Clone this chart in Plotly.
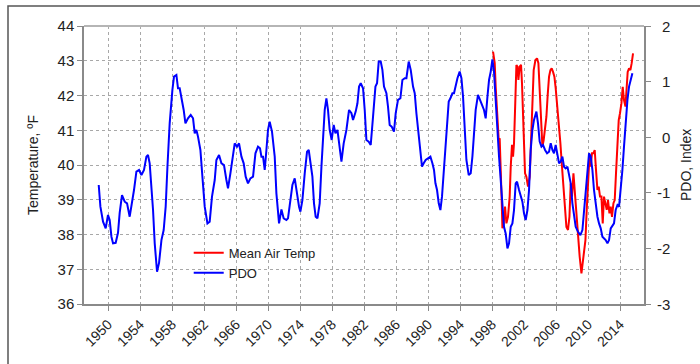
import plotly.graph_objects as go

# Pacific Decadal Oscillation index (right axis), smoothed
pdo_year = [
    1948.84, 1949.05, 1949.38, 1949.71, 1950.00, 1950.21, 1950.43, 1950.63, 1950.96, 1951.25,
    1951.46, 1951.75, 1952.09, 1952.38, 1952.71, 1953.00, 1953.25, 1953.55, 1953.88, 1954.18,
    1954.50, 1954.80, 1955.00, 1955.21, 1955.43, 1955.63, 1955.84, 1956.13, 1956.38, 1956.68,
    1956.96, 1957.21, 1957.43, 1957.71, 1958.05, 1958.25, 1958.55, 1958.75, 1958.96, 1959.18,
    1959.46, 1959.68, 1960.00, 1960.34, 1960.63, 1960.84, 1961.05, 1961.25, 1961.55, 1961.80,
    1962.09, 1962.43, 1962.71, 1963.00, 1963.34, 1963.55, 1963.88, 1964.18, 1964.50, 1964.80,
    1965.00, 1965.30, 1965.63, 1965.84, 1966.13, 1966.38, 1966.68, 1966.96, 1967.21, 1967.50,
    1967.80, 1968.13, 1968.43, 1968.75, 1969.00, 1969.18, 1969.38, 1969.59, 1969.80, 1970.00,
    1970.21, 1970.50, 1970.84, 1971.05, 1971.38, 1971.68, 1971.96, 1972.30, 1972.50, 1972.80,
    1973.05, 1973.34, 1973.63, 1973.88, 1974.05, 1974.30, 1974.59, 1974.88, 1975.09, 1975.30,
    1975.55, 1975.75, 1975.96, 1976.18, 1976.46, 1976.68, 1976.88, 1977.09, 1977.30, 1977.50,
    1977.71, 1977.96, 1978.21, 1978.43, 1978.68, 1978.88, 1979.18, 1979.46, 1979.80, 1980.13,
    1980.43, 1980.63, 1980.96, 1981.18, 1981.38, 1981.59, 1981.88, 1982.09, 1982.30, 1982.59,
    1982.84, 1983.13, 1983.43, 1983.63, 1983.84, 1984.09, 1984.30, 1984.50, 1984.80, 1985.00,
    1985.21, 1985.46, 1985.75, 1985.96, 1986.25, 1986.55, 1986.80, 1987.09, 1987.30, 1987.59,
    1987.84, 1988.13, 1988.34, 1988.55, 1988.84, 1989.05, 1989.25, 1989.46, 1989.71, 1990.00,
    1990.30, 1990.55, 1990.75, 1990.93, 1991.13, 1991.34, 1991.55, 1991.75, 1991.96, 1992.18,
    1992.38, 1992.59, 1992.80, 1993.05, 1993.25, 1993.46, 1993.68, 1993.96, 1994.18, 1994.38,
    1994.59, 1994.80, 1995.09, 1995.34, 1995.55, 1995.75, 1995.96, 1996.25, 1996.46, 1996.75,
    1997.00, 1997.21, 1997.43, 1997.63, 1997.84, 1998.05, 1998.25, 1998.46, 1998.68, 1998.88,
    1999.09, 1999.30, 1999.50, 1999.71, 1999.93, 2000.13, 2000.34, 2000.55, 2000.75, 2000.96,
    2001.13, 2001.38, 2001.59, 2001.80, 2002.00, 2002.21, 2002.43, 2002.63, 2002.84, 2003.05,
    2003.25, 2003.55, 2003.75, 2003.96, 2004.18, 2004.38, 2004.63, 2004.88, 2005.13, 2005.34,
    2005.55, 2005.75, 2005.96, 2006.18, 2006.38, 2006.59, 2006.80, 2007.00, 2007.21, 2007.43,
    2007.63, 2007.84, 2008.05, 2008.25, 2008.46, 2008.75, 2009.05, 2009.30, 2009.50, 2009.71,
    2009.93, 2010.13, 2010.34, 2010.55, 2010.75, 2010.96, 2011.18, 2011.38, 2011.59, 2011.80,
    2012.00, 2012.21, 2012.43, 2012.63, 2012.84, 2013.05, 2013.25, 2013.46, 2013.68, 2013.88,
    2014.09, 2014.30, 2014.50, 2014.71, 2014.93, 2015.13, 2015.34, 2015.55,
]
pdo_index = [
    -0.86, -1.25, -1.52, -1.64, -1.40, -1.49, -1.79, -1.91, -1.90, -1.72,
    -1.36, -1.04, -1.16, -1.19, -1.43, -1.19, -0.95, -0.62, -0.59, -0.68,
    -0.59, -0.35, -0.32, -0.47, -0.83, -1.31, -1.91, -2.42, -2.26, -1.85,
    -1.67, -1.25, -0.53, 0.25, 0.85, 1.09, 1.12, 0.88, 0.88, 0.73,
    0.49, 0.25, 0.34, 0.40, 0.34, 0.07, 0.13, 0.01, -0.23, -0.71,
    -1.25, -1.55, -1.52, -1.07, -0.77, -0.41, -0.32, -0.47, -0.50, -0.77,
    -0.92, -0.65, -0.35, -0.11, -0.17, -0.11, -0.35, -0.47, -0.71, -0.83,
    -0.74, -0.71, -0.29, -0.17, -0.20, -0.35, -0.35, -0.59, -0.23, 0.13,
    0.28, 0.10, -0.35, -1.01, -1.55, -1.30, -1.46, -1.49, -1.46, -1.07,
    -0.86, -0.74, -1.07, -1.25, -1.34, -1.13, -0.65, -0.26, -0.23, -0.47,
    -0.71, -1.19, -1.43, -1.46, -1.19, -0.53, 0.01, 0.49, 0.70, 0.49,
    0.13, -0.05, 0.22, 0.07, 0.13, -0.11, -0.44, -0.11, 0.13, 0.49,
    0.43, 0.31, 0.46, 0.61, 0.91, 0.97, 0.88, 0.49, -0.05, -0.08,
    -0.14, 0.37, 0.91, 0.97, 1.36, 1.36, 1.21, 0.91, 0.79, 0.55,
    0.22, 0.19, 0.10, 0.43, 0.67, 0.70, 1.03, 1.06, 1.06, 1.36,
    1.21, 0.91, 0.79, 0.43, 0.01, -0.29, -0.53, -0.47, -0.41, -0.38,
    -0.35, -0.47, -0.59, -0.83, -0.95, -1.19, -1.31, -1.07, -0.65, -0.23,
    0.25, 0.64, 0.70, 0.79, 0.79, 0.94, 1.06, 1.18, 1.06, 0.73,
    0.10, -0.41, -0.68, -0.65, -0.35, 0.07, 0.49, 0.76, 0.67, 0.58,
    0.49, 0.34, 0.73, 1.03, 1.18, 1.40, 1.18, 0.61, 0.07, -0.35,
    -0.77, -1.25, -1.61, -1.73, -2.00, -1.91, -1.61, -1.55, -1.31, -0.83,
    -0.80, -0.95, -1.07, -1.16, -1.37, -1.49, -1.31, -0.95, -0.23, 0.13,
    0.31, 0.46, 0.25, -0.08, -0.17, -0.14, -0.23, -0.29, -0.26, -0.11,
    -0.23, -0.29, -0.14, -0.35, -0.47, -0.44, -0.35, -0.53, -0.56, -0.53,
    -0.65, -0.83, -1.19, -1.37, -1.61, -1.70, -1.76, -1.67, -1.31, -1.07,
    -0.65, -0.29, -0.35, -0.59, -0.95, -1.25, -1.43, -1.55, -1.64, -1.79,
    -1.82, -1.85, -1.91, -1.85, -1.64, -1.58, -1.55, -1.31, -1.22, -1.25,
    -0.95, -0.59, -0.17, 0.31, 0.67, 0.91, 1.06, 1.15,
]

# Mean air temperature, degrees F (left axis)
temp_year = [
    1998.13, 1998.34, 1998.46, 1998.63, 1998.84, 1998.96, 1999.09, 1999.21, 1999.30, 1999.46,
    1999.63, 1999.80, 2000.00, 2000.21, 2000.34, 2000.50, 2000.63, 2000.75, 2000.88, 2001.05,
    2001.18, 2001.30, 2001.46, 2001.63, 2001.75, 2001.96, 2002.13, 2002.30, 2002.50, 2002.71,
    2002.88, 2003.05, 2003.21, 2003.43, 2003.63, 2003.80, 2003.96, 2004.13, 2004.30, 2004.46,
    2004.63, 2004.80, 2004.96, 2005.13, 2005.30, 2005.46, 2005.63, 2005.80, 2005.96, 2006.13,
    2006.34, 2006.55, 2006.75, 2006.96, 2007.13, 2007.30, 2007.50, 2007.68, 2007.84, 2008.00,
    2008.18, 2008.34, 2008.55, 2008.75, 2008.96, 2009.18, 2009.34, 2009.50, 2009.68, 2009.84,
    2010.00, 2010.18, 2010.34, 2010.50, 2010.68, 2010.84, 2011.00, 2011.18, 2011.34, 2011.50,
    2011.68, 2011.84, 2012.00, 2012.18, 2012.34, 2012.50, 2012.68, 2012.84, 2013.00, 2013.18,
    2013.34, 2013.50, 2013.68, 2013.84, 2014.00, 2014.18, 2014.34, 2014.50, 2014.68, 2014.80,
    2014.96, 2015.13, 2015.30, 2015.46, 2015.63,
]
temp_f = [
    43.26, 42.93, 42.25, 41.58, 40.72, 40.77, 40.05, 38.99, 38.18, 38.32,
    38.80, 38.32, 38.51, 39.09, 39.95, 40.58, 40.24, 40.62, 41.58, 42.88,
    42.83, 42.45, 42.83, 42.88, 42.35, 41.10, 39.76, 39.66, 39.38, 39.66,
    40.62, 41.78, 42.73, 43.02, 43.07, 42.93, 42.06, 41.01, 40.53, 40.72,
    41.10, 41.39, 42.01, 42.54, 42.73, 42.78, 42.68, 42.54, 42.21, 41.78,
    41.29, 40.62, 39.95, 39.28, 38.71, 38.22, 38.13, 38.51, 39.47, 39.09,
    39.76, 39.28, 38.42, 37.94, 37.36, 36.88, 37.17, 37.55, 37.84, 38.71,
    39.47, 40.24, 39.95, 40.34, 40.34, 40.43, 39.86, 39.28, 39.38, 39.09,
    39.09, 38.32, 39.09, 38.90, 38.71, 38.99, 38.61, 38.80, 38.51, 38.90,
    38.99, 39.76, 40.62, 41.29, 41.49, 41.78, 42.25, 41.87, 41.68, 42.25,
    42.68, 42.78, 42.73, 42.93, 43.21,
]

year_ticks = list(range(1950, 2015, 4))
temp_ticks = list(range(36, 45))
pdo_ticks = [-3, -2, -1, 0, 1, 2]

FONT = "Liberation Sans, Arial, sans-serif"
TEXT = "#222222"
AXIS = "#8a8a8a"
GRID = "#a8a8a8"

# plot-area geometry in pixels (used to place paper-referenced decorations)
W, H = 700, 364
ML, MR, MT, MB = 84, 56, 26, 60
PW, PH = W - ML - MR, H - MT - MB


def px_x(p):
    return (p - ML) / PW


def px_y(p):
    return 1 - (p - MT) / PH


fig = go.Figure()
# PDO drawn first so the temperature line sits on top
fig.add_trace(go.Scatter(
    x=pdo_year, y=pdo_index, name="PDO", mode="lines",
    line=dict(color="#0000ff", width=2), yaxis="y2", legendrank=2,
))
fig.add_trace(go.Scatter(
    x=temp_year, y=temp_f, name="Mean Air Temp", mode="lines",
    line=dict(color="#ff0000", width=2), yaxis="y", legendrank=1,
))

fig.update_layout(
    width=W, height=H,
    margin=dict(l=ML, r=MR, t=MT, b=MB),
    paper_bgcolor="white", plot_bgcolor="white",
    font=dict(family=FONT, color=TEXT, size=14),
    showlegend=True,
    legend=dict(
        x=0.187, y=0.238, xanchor="left", yanchor="top",
        bgcolor="rgba(0,0,0,0)", font=dict(size=13, color=TEXT),
        traceorder="normal", tracegroupgap=6, itemwidth=30,
    ),
    xaxis=dict(
        range=[1947, 2017], tickvals=year_ticks, tickangle=-45,
        showgrid=True, gridcolor=GRID, griddash="dot", gridwidth=1,
        showline=True, linecolor=AXIS, linewidth=1.5,
        ticks="outside", ticklen=5, tickcolor=AXIS,
        tickfont=dict(size=14, color=TEXT), zeroline=False,
    ),
    yaxis=dict(
        range=[36, 44], tickvals=temp_ticks,
        title=dict(text="Temperature, ºF", font=dict(size=14, color=TEXT), standoff=16),
        showgrid=True, gridcolor=GRID, griddash="dot", gridwidth=1,
        showline=True, linecolor=AXIS, linewidth=1.5,
        ticks="outside", ticklen=5, tickcolor=AXIS,
        tickfont=dict(size=15, color=TEXT), zeroline=False,
    ),
    yaxis2=dict(
        range=[-3, 2], tickvals=pdo_ticks, overlaying="y", side="right",
        showticklabels=False,
        showgrid=False, showline=True, linecolor=AXIS, linewidth=1.5,
        ticks="outside", ticklen=5, tickcolor=AXIS, zeroline=False,
    ),
)

# right-axis tick labels, right-aligned in a column beside the axis
for v in pdo_ticks:
    fig.add_annotation(
        x=px_x(672), xref="paper", xanchor="right",
        y=v, yref="y2", yanchor="middle",
        text=str(v), showarrow=False, font=dict(size=15, color=TEXT),
    )

# right-axis title
fig.add_annotation(
    x=px_x(686), xref="paper", xanchor="center",
    y=0.5, yref="paper", yanchor="middle", textangle=-90,
    text="PDO, Index", showarrow=False, font=dict(size=14, color=TEXT),
)

# top edge of the plotting area
fig.add_shape(type="line", xref="paper", yref="paper", x0=0, x1=1, y0=1, y1=1,
              line=dict(color="#b5b5b5", width=2), layer="above")

# outer frame around the whole figure
fig.add_shape(type="rect", xref="paper", yref="paper",
              x0=px_x(8), x1=px_x(710), y0=px_y(370), y1=px_y(6),
              line=dict(color="#555555", width=1.5), fillcolor="rgba(0,0,0,0)")

fig.write_html("out.html")
